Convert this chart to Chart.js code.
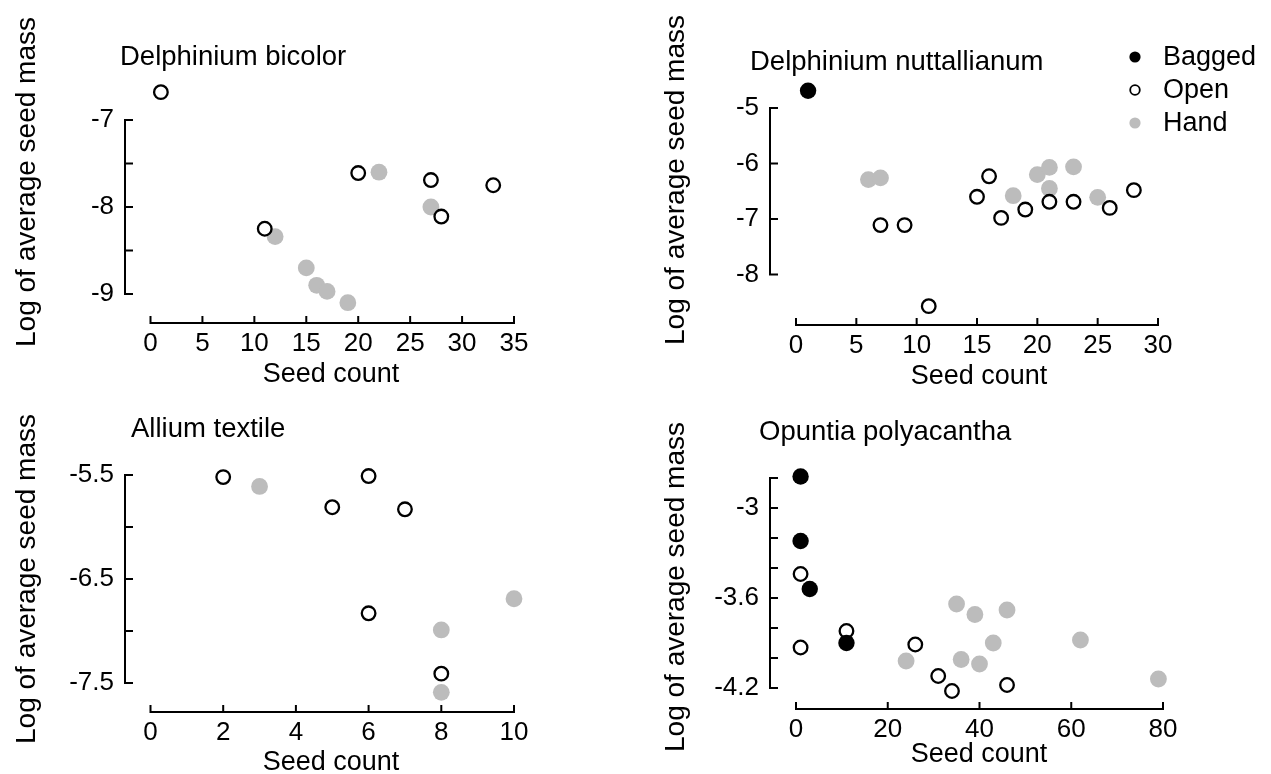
<!DOCTYPE html>
<html>
<head>
<meta charset="utf-8">
<script src="https://cdn.jsdelivr.net/npm/chart.js@4"></script>
<style>
  html, body { margin: 0; padding: 0; background: #fff; }
  #wrap { position: relative; width: 1271px; height: 774px; }
  #wrap canvas { position: absolute; left: 0; top: 0; }
</style>
</head>
<body>
<div id="wrap">
  <canvas id="c1" width="1271" height="774"></canvas>
  <canvas id="c2" width="1271" height="774"></canvas>
  <canvas id="c3" width="1271" height="774"></canvas>
  <canvas id="c4" width="1271" height="774"></canvas>
</div>
<script>
// ---- 数据 ----
// Delphinium bicolor
const bicolorOpenX = [1, 11, 20, 27, 28, 33];
const bicolorOpenY = [-6.68, -8.25, -7.61, -7.69, -8.11, -7.75];
const bicolorHandX = [12, 15, 16, 17, 19, 22, 27];
const bicolorHandY = [-8.34, -8.70, -8.90, -8.97, -9.10, -7.60, -8.00];

// Delphinium nuttallianum
const nuttBaggedX = [1];
const nuttBaggedY = [-4.69];
const nuttOpenX = [7, 9, 11, 15, 16, 17, 19, 21, 23, 26, 28];
const nuttOpenY = [-7.11, -7.11, -8.57, -6.60, -6.23, -6.98, -6.83, -6.69, -6.69, -6.80, -6.48];
const nuttHandX = [6, 7, 18, 20, 21, 21, 23, 25];
const nuttHandY = [-6.29, -6.26, -6.58, -6.20, -6.07, -6.45, -6.06, -6.61];

// Allium textile
const alliumOpenX = [2, 5, 6, 7, 6, 8];
const alliumOpenY = [-5.52, -5.81, -5.51, -5.83, -6.83, -7.41];
const alliumHandX = [3, 8, 8, 10];
const alliumHandY = [-5.61, -6.99, -7.59, -6.69];

// Opuntia polyacantha
const opuntiaBaggedX = [1, 1, 3, 11];
const opuntiaBaggedY = [-2.79, -3.22, -3.54, -3.90];
const opuntiaOpenX = [1, 1, 11, 26, 31, 34, 46];
const opuntiaOpenY = [-3.44, -3.93, -3.82, -3.91, -4.12, -4.22, -4.18];
const opuntiaHandX = [24, 35, 36, 39, 40, 43, 46, 62, 79];
const opuntiaHandY = [-4.02, -3.64, -4.01, -3.71, -4.04, -3.90, -3.68, -3.88, -4.14];

// 刻度
const bicolorXTicks = [0, 5, 10, 15, 20, 25, 30, 35];
const bicolorYLabels = [-7, -8, -9];
const bicolorYMarks = [-7, -7.5, -8, -8.5, -9];
const nuttXTicks = [0, 5, 10, 15, 20, 25, 30];
const nuttYLabels = [-5, -6, -7, -8];
const nuttYMarks = [-5, -6, -7, -8];
const alliumXTicks = [0, 2, 4, 6, 8, 10];
const alliumYLabels = [-5.5, -6.5, -7.5];
const alliumYMarks = [-5.5, -6, -6.5, -7, -7.5];
const opuntiaXTicks = [0, 20, 40, 60, 80];
const opuntiaYLabels = [-3, -3.6, -4.2];
const opuntiaYMarks = [-2.8, -3, -3.2, -3.4, -3.6, -3.8, -4, -4.2];

const legendLabels = ['Bagged', 'Open', 'Hand'];

// ---- 样式 ----
const FONT = "'Liberation Sans', Arial, Helvetica, sans-serif";
const W = 1271, H = 774;
const GREY = '#bcbcbc';

function pts(xs, ys) {
    return xs.map((x, i) => ({ x: x, y: ys[i] }));
}

const styles = {
    Bagged: { backgroundColor: '#000', borderColor: '#000', borderWidth: 0, pointRadius: 8.2 },
    Open:   { backgroundColor: '#fff', borderColor: '#000', borderWidth: 2.3, pointRadius: 6.8 },
    Hand:   { backgroundColor: GREY, borderColor: GREY, borderWidth: 0, pointRadius: 8.4 }
};

function ds(label, xs, ys, order) {
    return Object.assign({ label: label, data: pts(xs, ys), order: order, clip: false,
        pointHoverRadius: 8 }, styles[label]);
}

// 面板配置：area 为绘图区（页面像素），xA / yA 为两个参考刻度的位置
const panels = [
    { canvas: 'c1', title: 'Delphinium bicolor', titleAt: [120, 65],
      area: { l: 125, t: 60, r: 543, b: 323 },
      xA: [0, 150.5, 35, 514], yA: [-7, 120, -9, 294],
      xTicks: bicolorXTicks, yLabels: bicolorYLabels, yMarks: bicolorYMarks,
      yTitleAt: [35, 182], xTitleAt: [331, 382],
      datasets: [ds('Open', bicolorOpenX, bicolorOpenY, 0), ds('Hand', bicolorHandX, bicolorHandY, 1)] },
    { canvas: 'c2', title: 'Delphinium nuttallianum', titleAt: [750, 70],
      area: { l: 770, t: 60, r: 1190, b: 325 },
      xA: [0, 796, 30, 1158], yA: [-5, 108, -8, 274.5],
      xTicks: nuttXTicks, yLabels: nuttYLabels, yMarks: nuttYMarks,
      yTitleAt: [684, 180], xTitleAt: [979, 384], legend: true,
      datasets: [ds('Bagged', nuttBaggedX, nuttBaggedY, 0), ds('Open', nuttOpenX, nuttOpenY, 1), ds('Hand', nuttHandX, nuttHandY, 2)] },
    { canvas: 'c3', title: 'Allium textile', titleAt: [131, 437],
      area: { l: 125, t: 440, r: 543, b: 712 },
      xA: [0, 150.5, 10, 514], yA: [-5.5, 475, -7.5, 683],
      xTicks: alliumXTicks, yLabels: alliumYLabels, yMarks: alliumYMarks,
      yTitleAt: [35, 579], xTitleAt: [331, 770],
      datasets: [ds('Open', alliumOpenX, alliumOpenY, 0), ds('Hand', alliumHandX, alliumHandY, 1)] },
    { canvas: 'c4', title: 'Opuntia polyacantha', titleAt: [759, 440],
      area: { l: 770, t: 440, r: 1190, b: 709 },
      xA: [0, 796, 80, 1163], yA: [-2.8, 478, -4.2, 688],
      xTicks: opuntiaXTicks, yLabels: opuntiaYLabels, yMarks: opuntiaYMarks,
      yTitleAt: [684, 587], xTitleAt: [979, 762],
      datasets: [ds('Bagged', opuntiaBaggedX, opuntiaBaggedY, 0), ds('Open', opuntiaOpenX, opuntiaOpenY, 1), ds('Hand', opuntiaHandX, opuntiaHandY, 2)] }
];

// 由两个参考点推算坐标轴范围
function rangeX(p) {
    const k = (p.xA[3] - p.xA[1]) / (p.xA[2] - p.xA[0]);
    return { min: p.xA[0] - (p.xA[1] - p.area.l) / k, max: p.xA[0] + (p.area.r - p.xA[1]) / k };
}
function rangeY(p) {
    const k = (p.yA[3] - p.yA[1]) / (p.yA[2] - p.yA[0]);
    return { max: p.yA[0] - (p.yA[1] - p.area.t) / k, min: p.yA[0] + (p.area.b - p.yA[1]) / k };
}

// 画坐标轴线、刻度、标题、图例
const framePlugin = {
    id: 'frame',
    afterDraw(chart, args, opts) {
        const p = opts.panel;
        const ctx = chart.ctx;
        const xs = chart.scales.x, ys = chart.scales.y;
        const ca = chart.chartArea;
        ctx.save();
        ctx.strokeStyle = '#000';
        ctx.lineWidth = 2;
        ctx.lineCap = 'butt';
        // y 轴
        const yTop = ys.getPixelForValue(p.yMarks[0]);
        const yBot = ys.getPixelForValue(p.yMarks[p.yMarks.length - 1]);
        ctx.beginPath();
        ctx.moveTo(ca.left, yTop - 1);
        ctx.lineTo(ca.left, yBot + 1);
        p.yMarks.forEach(v => {
            const y = ys.getPixelForValue(v);
            ctx.moveTo(ca.left, y);
            ctx.lineTo(ca.left + 8, y);
        });
        // x 轴
        const x0 = xs.getPixelForValue(p.xTicks[0]);
        const x1 = xs.getPixelForValue(p.xTicks[p.xTicks.length - 1]);
        ctx.moveTo(x0 - 1, ca.bottom);
        ctx.lineTo(x1 + 1, ca.bottom);
        p.xTicks.forEach(v => {
            const x = xs.getPixelForValue(v);
            ctx.moveTo(x, ca.bottom);
            ctx.lineTo(x, ca.bottom - 7);
        });
        ctx.stroke();

        ctx.fillStyle = '#000';
        ctx.textBaseline = 'alphabetic';
        ctx.textAlign = 'left';
        ctx.font = '27.5px ' + FONT;
        ctx.fillText(p.title, p.titleAt[0], p.titleAt[1]);

        ctx.font = '27px ' + FONT;
        ctx.textAlign = 'center';
        ctx.fillText('Seed count', p.xTitleAt[0], p.xTitleAt[1]);

        ctx.save();
        ctx.translate(p.yTitleAt[0], p.yTitleAt[1]);
        ctx.rotate(-Math.PI / 2);
        ctx.font = '28px ' + FONT;
        ctx.fillText('Log of average seed mass', 0, 0);
        ctx.restore();

        if (p.legend) {
            const rows = [57, 90, 123];
            ctx.textAlign = 'left';
            ctx.textBaseline = 'middle';
            ctx.font = '27px ' + FONT;
            legendLabels.forEach((lab, i) => {
                const s = styles[lab];
                ctx.beginPath();
                ctx.arc(1135, rows[i], s.borderWidth ? 4.8 : 5.6, 0, Math.PI * 2);
                ctx.fillStyle = s.backgroundColor;
                ctx.fill();
                if (s.borderWidth) {
                    ctx.lineWidth = 1.8;
                    ctx.strokeStyle = s.borderColor;
                    ctx.stroke();
                }
                ctx.fillStyle = '#000';
                ctx.fillText(lab, 1163, rows[i] + 1);
            });
        }
        ctx.restore();
    }
};

panels.forEach(p => {
    const rx = rangeX(p), ry = rangeY(p);
    new Chart(document.getElementById(p.canvas), {
        type: 'scatter',
        data: { datasets: p.datasets },
        options: {
            responsive: false,
            animation: false,
            events: [],
            layout: { padding: { left: 0, top: p.area.t, right: W - p.area.r, bottom: 0 } },
            plugins: {
                legend: { display: false },
                tooltip: { enabled: false },
                frame: { panel: p }
            },
            scales: {
                x: {
                    type: 'linear', min: rx.min, max: rx.max,
                    afterBuildTicks: s => { s.ticks = p.xTicks.map(v => ({ value: v })); },
                    afterFit: s => { s.height = H - p.area.b; },
                    grid: { display: false, drawTicks: false },
                    border: { display: false },
                    ticks: { font: { family: FONT, size: 26 }, color: '#000', padding: 5,
                             maxRotation: 0, autoSkip: false }
                },
                y: {
                    type: 'linear', min: ry.min, max: ry.max,
                    afterBuildTicks: s => { s.ticks = p.yLabels.map(v => ({ value: v })); },
                    afterFit: s => { s.width = p.area.l; },
                    grid: { display: false, drawTicks: false },
                    border: { display: false },
                    ticks: { font: { family: FONT, size: 26 }, color: '#000', padding: 11,
                             autoSkip: false, callback: v => String(v) }
                }
            }
        },
        plugins: [framePlugin]
    });
});
</script>
</body>
</html>
